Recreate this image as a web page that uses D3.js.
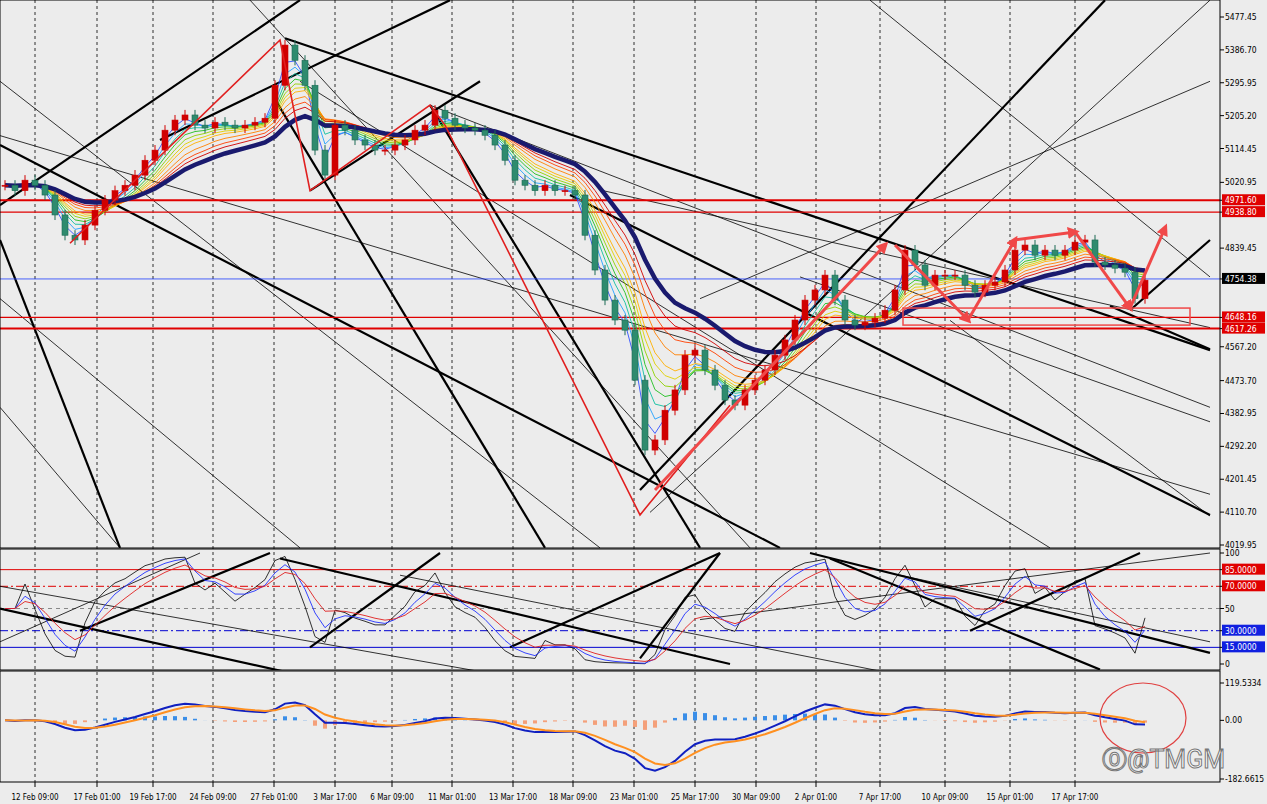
<!DOCTYPE html>
<html><head><meta charset="utf-8">
<script src="https://cdn.jsdelivr.net/npm/d3@7"></script>
<style>body{margin:0;background:#ececec;font-family:"DejaVu Sans",sans-serif}</style>
</head><body>
<svg id="canvas" width="1267" height="804"></svg>
<script>
// closes, one per ~10px
var closes = [5013,4998,5027,5013,4986,4931,4875,4862,4903,4944,4972,4998,5013,5041,5082,5110,5165,5193,5207,5179,
  5171,5187,5179,5171,5179,5187,5198,5289,5400,5358,5289,5110,5041,5179,5165,5138,5124,5110,5110,5124,
  5138,5165,5179,5220,5198,5179,5171,5165,5151,5124,5082,5027,5013,4998,5013,4998,4998,4986,4875,4779,
  4696,4641,4613,4475,4282,4310,4392,4448,4544,4558,4503,4461,4420,4406,4448,4475,4503,4544,4586,4641,
  4696,4724,4765,4696,4641,4627,4635,4646,4668,4724,4834,4793,4737,4765,4765,4765,4737,4718,4737,4746,
  4779,4834,4848,4820,4834,4820,4834,4856,4862,4801,4793,4784,4773,4700,4751];
var priceTicks = [5477.45,5386.70,5295.95,5205.20,5114.45,5020.95,4839.45,4567.20,4473.70,4382.95,4292.20,4201.45,4110.70,4019.95];
var redLevels = [4971.60,4938.80,4648.16,4617.26];
var lastPrice = 4754.38;
var timeLabels = ["12 Feb 09:00","17 Feb 01:00","19 Feb 17:00","24 Feb 09:00","27 Feb 01:00","3 Mar 17:00","6 Mar 09:00","11 Mar 01:00","13 Mar 17:00","18 Mar 09:00","23 Mar 01:00","25 Mar 17:00","30 Mar 09:00","2 Apr 01:00","7 Apr 17:00","10 Apr 09:00","15 Apr 01:00","17 Apr 17:00"];
var timeTicks = [3.5,9.7,15.3,21.3,27.4,33.5,39.2,45.2,51.3,57.3,63.4,69.5,75.6,81.6,88,94.5,101,107.5];
var thickLines = [[28.5,5419,121,4558],[0,5124,78,4012],[27.5,5250,54.5,4012],[43,5234,70,4012],[64,4172,110.5,5524],
  [0,4862,12,4012],[57,4986,121,4103],[113,4668,121,4862],[111,4680,121,4560],[0,4958,30,5524],[16,5138,45,5524],[31,4998,48,5300]];
var thinLines = [[25,5524,75,4012],[30,5300,105,4012],[65,4110,121,5524],[43,5234,121,4400],[0,5300,60,4012],[0,4400,12,4012],
  [0,5150,121,4160],[80,4760,121,4360],[87,5524,121,4760],[95,4640,121,4100],[60,5000,121,4620],[0,4700,30,4012],[70,4700,121,5300]];
var redPath = [[7,4853],[28,5414],[31,4998],[43,5234],[44.5,5179],[64,4103],[73,4406]];
var arrowPath = [[65.5,4172],[88.5,4848]];
var zigzag = [[89.5,4848],[96.8,4641],[101.5,4862],[107.5,4884],[113,4674],[116.5,4895]];
var rsiLevels = [[85,"#e00000","none"],[70,"#e00000","8,3,2,3"],[50,"#888","4,4"],[30,"#0000d0","8,3,2,3"],[15,"#0000d0","none"]];
var rsiThick = [[0,50,30,-10],[8,30,27,100],[64,5,72,100],[51,15,72,100],[97,30,114,100],[28,95,73,0],[81,100,121,10],[31,15,44,100],[83,95,110,-5]];
var rsiThin = [[0,70,50,-10],[40,80,90,-10],[70,40,121,100],[90,80,121,20],[0,20,20,100]];

var svg = d3.select("#canvas"), W = 1220;
var x = d3.scaleLinear().domain([0,122]).range([0,W]);
var y = d3.scaleLinear().domain([4019.95,5477.45]).range([545,17]);
var yR = d3.scaleLinear().domain([0,100]).range([664,553]);
var yM = d3.scaleLinear().domain([-182.6615,119.5334]).range([782,680]);

function ema(arr, n){ var k=2/(n+1), out=[], v=arr[0]; arr.forEach(function(a){ v = a*k + v*(1-k); out.push(v);}); return out; }

var defs = svg.append("defs");
[["cm",0,548],["cr",549,670],["cq",671,782]].forEach(function(c){
  defs.append("clipPath").attr("id",c[0]).append("rect").attr("x",0).attr("y",c[1]).attr("width",W).attr("height",c[2]-c[1]);
});
defs.append("marker").attr("id","ah").attr("viewBox","0 0 10 10").attr("refX",6).attr("refY",5)
  .attr("markerWidth",4).attr("markerHeight",4).attr("orient","auto")
  .append("path").attr("d","M0,0L10,5L0,10z").attr("fill","#f04848");

// grid verticals
svg.append("g").selectAll("line").data(timeTicks).enter().append("line")
  .attr("x1",d=>x(d)).attr("x2",d=>x(d)).attr("y1",0).attr("y2",782)
  .attr("stroke","#000").attr("stroke-dasharray","3,3").attr("stroke-width",0.8);

var main = svg.append("g").attr("clip-path","url(#cm)");
function seg(g, data, sx, sy, w, col){
  g.selectAll(null).data(data).enter().append("line")
   .attr("x1",d=>sx(d[0])).attr("y1",d=>sy(d[1])).attr("x2",d=>sx(d[2])).attr("y2",d=>sy(d[3]))
   .attr("stroke",col).attr("stroke-width",w);
}
seg(main, thinLines, x, y, 0.8, "#000");
seg(main, thickLines, x, y, 2.2, "#000");

main.selectAll(null).data(redLevels).enter().append("line")
  .attr("x1",0).attr("x2",W).attr("y1",d=>y(d)).attr("y2",d=>y(d))
  .attr("stroke","#e00000").attr("stroke-width",(d,i)=>i%3==0?2:1.2);
main.append("line").attr("x1",0).attr("x2",W).attr("y1",y(lastPrice)).attr("y2",y(lastPrice)).attr("stroke","#2040ff").attr("stroke-width",0.8);

// ribbon
var periods = [2,3,4,5,6,7,8,10,12,14], cols = ["#3050ff","#20a0ff","#10c0a0","#20c020","#90d000","#e0d000","#ffb000","#ff8000","#ff4000","#d00000"];
var ln = d3.line().x((d,i)=>x(i+0.5)).y(d=>y(d));
periods.forEach(function(p,k){
  main.append("path").attr("d",ln(ema(closes,p))).attr("fill","none").attr("stroke",cols[k]).attr("stroke-width",0.9);
});
main.append("path").attr("d",ln(ema(closes,18))).attr("fill","none").attr("stroke","#1a1a6e").attr("stroke-width",4.5);

// candles
var cg = main.append("g");
closes.forEach(function(c,i){
  var o = i ? closes[i-1] : c, up = c>=o, col = up ? "#d00000" : "#1d6b55";
  cg.append("line").attr("x1",x(i+0.5)).attr("x2",x(i+0.5)).attr("y1",y(Math.max(o,c)+14)).attr("y2",y(Math.min(o,c)-14)).attr("stroke",col);
  cg.append("rect").attr("x",x(i+0.5)-3).attr("width",6).attr("y",y(Math.max(o,c))).attr("height",Math.max(1,y(Math.min(o,c))-y(Math.max(o,c))))
    .attr("fill",up?col:"#2e8b6e").attr("stroke",col).attr("stroke-width",0.6);
});

var lp = d3.line().x(d=>x(d[0])).y(d=>y(d[1]));
main.append("path").attr("d",lp(redPath)).attr("fill","none").attr("stroke","#e02020").attr("stroke-width",1.6);
main.append("path").attr("d",lp(arrowPath)).attr("fill","none").attr("stroke","#f04848").attr("stroke-width",3).attr("marker-end","url(#ah)");
for (var i=0;i<zigzag.length-1;i++)
  main.append("path").attr("d",lp([zigzag[i],zigzag[i+1]])).attr("fill","none").attr("stroke","#f04848").attr("stroke-width",3).attr("marker-end","url(#ah)");
main.append("rect").attr("x",x(90.3)).attr("y",y(4674)).attr("width",x(119)-x(90.3)).attr("height",y(4627)-y(4674))
  .attr("fill","none").attr("stroke","#f04848").attr("stroke-width",1.5);

// RSI
var gains=[0],loss=[0];
for (var i=1;i<closes.length;i++){ var d=closes[i]-closes[i-1]; gains.push(Math.max(d,0)); loss.push(Math.max(-d,0)); }
var ag=ema(gains,7), al=ema(loss,7);
var rsi = ag.map((g,i)=> i<2?50: 100*g/(g+al[i]+1e-9));
var rg = svg.append("g").attr("clip-path","url(#cr)");
rsiLevels.forEach(function(l){
  rg.append("line").attr("x1",0).attr("x2",W).attr("y1",yR(l[0])).attr("y2",yR(l[0])).attr("stroke",l[1]).attr("stroke-dasharray",l[2]);
});
seg(rg, rsiThin, x, yR, 0.8, "#000");
seg(rg, rsiThick, x, yR, 2.2, "#000");
var lr = d3.line().x((d,i)=>x(i+0.5)).y(d=>yR(d));
rg.append("path").attr("d",lr(rsi)).attr("fill","none").attr("stroke","#000").attr("stroke-width",0.8);
rg.append("path").attr("d",lr(ema(rsi,3))).attr("fill","none").attr("stroke","#2030ff").attr("stroke-width",0.9);
rg.append("path").attr("d",lr(ema(rsi,6))).attr("fill","none").attr("stroke","#e02020").attr("stroke-width",0.9);

// MACD
var e13 = ema(closes,13);
var macd = ema(closes,6).map((v,i)=>(v-e13[i])*0.8);
var sig = ema(macd,4);
var mg = svg.append("g").attr("clip-path","url(#cq)");
mg.selectAll(null).data(macd).enter().append("rect")
  .attr("x",(d,i)=>x(i+0.5)-2).attr("width",4)
  .attr("y",(d,i)=>yM(Math.max(0,d-sig[i]))).attr("height",(d,i)=>Math.abs(yM(d-sig[i])-yM(0)))
  .attr("fill",(d,i)=>d-sig[i]>=0?"#3a8ee8":"#f4a07a");
var lm = d3.line().x((d,i)=>x(i+0.5)).y(d=>yM(d));
mg.append("path").attr("d",lm(macd)).attr("fill","none").attr("stroke","#1020c0").attr("stroke-width",2);
mg.append("path").attr("d",lm(sig)).attr("fill","none").attr("stroke","#ff9020").attr("stroke-width",2);
svg.append("ellipse").attr("cx",1143).attr("cy",718).attr("rx",43).attr("ry",35).attr("fill","none").attr("stroke","#e04040").attr("stroke-width",1.2);

// frames and axes
[[0,548],[549,670],[671,782]].forEach(function(p){
  svg.append("rect").attr("x",0).attr("y",p[0]).attr("width",W).attr("height",p[1]-p[0]).attr("fill","none").attr("stroke","#000");
});
function rlab(v, yy, txt, bg, fg){
  svg.append("line").attr("x1",W).attr("x2",W+4).attr("y1",yy).attr("y2",yy).attr("stroke","#000");
  if (bg) svg.append("rect").attr("x",W+2).attr("y",yy-6).attr("width",43).attr("height",11).attr("fill",bg);
  svg.append("text").attr("x",W+5).attr("y",yy+3).attr("font-size",8.5).attr("font-family","DejaVu Sans Condensed, DejaVu Sans")
    .attr("fill",fg||"#000").text(txt);
}
priceTicks.forEach(v=>rlab(v,y(v),v.toFixed(2)));
redLevels.forEach(v=>rlab(v,y(v),v.toFixed(2),"#e00000","#fff"));
rlab(lastPrice,y(lastPrice),lastPrice.toFixed(2),"#000","#fff");
[100,50,0].forEach(v=>rlab(v,yR(v),String(v)));
rlab(85,yR(85),"85.0000","#e00000","#fff"); rlab(70,yR(70),"70.0000","#e00000","#fff");
rlab(30,yR(30),"30.0000","#1020e0","#fff"); rlab(15,yR(15),"15.0000","#1020e0","#fff");
rlab(0,yM(119.5334)+3,"119.5334"); rlab(0,yM(0),"0.00"); rlab(0,yM(-182.6615)-3,"-182.6615");
svg.append("g").selectAll("text").data(timeLabels).enter().append("text")
  .attr("x",(d,i)=>x(timeTicks[i])).attr("y",800).attr("text-anchor","middle").attr("font-size",8)
  .attr("font-family","DejaVu Sans Condensed, DejaVu Sans").text(d=>d);
svg.append("g").selectAll("line").data(timeTicks).enter().append("line")
  .attr("x1",d=>x(d)).attr("x2",d=>x(d)).attr("y1",782).attr("y2",787).attr("stroke","#000");

svg.append("text").attr("x",1102).attr("y",768).attr("font-size",25).attr("font-family","Roboto")
  .attr("fill","#fff").attr("stroke","#777").attr("stroke-width",1).text("⓪@TMGM");
</script>
</body></html>
